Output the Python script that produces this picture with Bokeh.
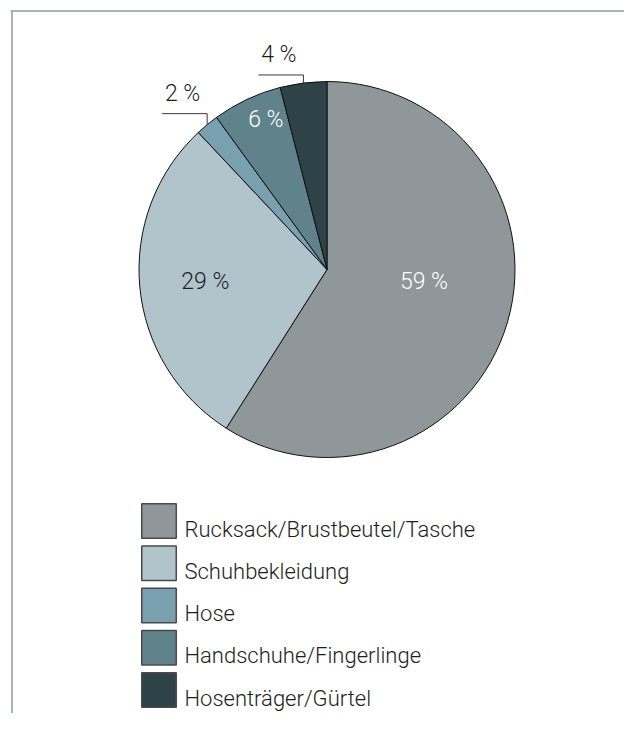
import math
from bokeh.plotting import figure
from bokeh.models import Range1d, ColumnDataSource
from bokeh.core.properties import value
from bokeh.embed import file_html
from bokeh.resources import INLINE

# ---- data ----
categories = ["Rucksack/Brustbeutel/Tasche", "Schuhbekleidung", "Hose",
              "Handschuhe/Fingerlinge", "Hosenträger/Gürtel"]
shares = [59, 29, 2, 6, 4]
colors = ["#8f979a", "#b1c4cc", "#78a0ae", "#60838b", "#2e4347"]

# ---- layout / style ----
W, H = 624, 713
FONT = value("Roboto Light, Roboto")
cx, cy_screen, R = 326.5, 269, 188

def Y(sy):
    return 729 - sy  # screen y -> data y

p = figure(width=W, height=H, output_backend="svg", toolbar_location=None,
           x_range=Range1d(0, W), y_range=Range1d(729 - H, 729),
           min_border=0, outline_line_color=None, background_fill_color="white")
p.axis.visible = False
p.grid.visible = False

# frame lines (partial border)
p.segment(x0=[10, 11.5], y0=[Y(10.5), Y(10)], x1=[640, 11.5], y1=[Y(10.5), Y(729)],
          line_color="#aeb3b5", line_width=2)

# wedges, clockwise from 12 o'clock
total = sum(shares)
starts, ends, mids = [], [], []
cum = 0
for v in shares:
    a_end = math.radians(90 - cum / total * 360)
    cum += v
    a_start = math.radians(90 - cum / total * 360)
    starts.append(a_start)
    ends.append(a_end)
    mids.append((a_start + a_end) / 2)

src = ColumnDataSource(dict(start=starts, end=ends, color=colors))
cy = Y(cy_screen)
p.wedge(x=cx, y=cy, radius=R, start_angle="start", end_angle="end",
        fill_color="color", line_color="#111111", line_width=1, source=src)

# labels
mode = ["in", "in", "out", "in", "out"]
r_fac = [0.52, 0.65, 1.0, 0.86, 1.0]
ang_adj = [9, 0, 0, -3, 0]
lab_col = ["white", "#1e1e1e", "#1e1e1e", "white", "#1e1e1e"]
rise = [0, 0, 11, 0, 8]
run = 45

for i, v in enumerate(shares):
    txt = f"{v} %"
    if mode[i] == "in":
        a = mids[i] + math.radians(ang_adj[i])
        x = cx + r_fac[i] * R * math.cos(a)
        y = cy + r_fac[i] * R * math.sin(a)
        p.text(x=[x], y=[y], text=[txt], text_font=FONT, text_font_size="23px",
               text_color=lab_col[i], text_align="center", text_baseline="middle")
    else:
        a = mids[i]
        x0 = cx + R * math.cos(a)
        y0 = cy + R * math.sin(a)
        y1 = y0 + rise[i]
        x1 = x0 - run
        p.line(x=[x0, x0, x1], y=[y0, y1, y1], line_color="#3a3a3a", line_width=1)
        p.text(x=[(x0 + x1) / 2 - 2], y=[y1 + 7], text=[txt], text_font=FONT,
               text_font_size="23px", text_color=lab_col[i], text_align="center",
               text_baseline="bottom")

# legend
leg_x, leg_y0, pitch, sq = 158.5, 520.5, 42.25, 34.5
for i, cat in enumerate(categories):
    sy = leg_y0 + i * pitch
    p.rect(x=[leg_x], y=[Y(sy)], width=sq, height=sq, fill_color=colors[i],
           line_color="#4a4a4a", line_width=1.5)
    p.text(x=[184], y=[Y(sy + 8)], text=[cat], text_font=FONT, text_font_size="22px",
           text_color="#1e1e1e", text_align="left", text_baseline="alphabetic")

open("out.html", "w").write(file_html(p, INLINE))
